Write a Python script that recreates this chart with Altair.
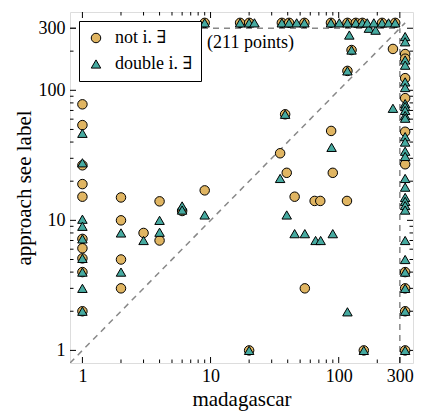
import altair as alt
import pandas as pd

W = 343
H = 351

# "not i. ∃" (circles)
not_x = [1, 1, 1, 1, 1, 1, 1, 1, 1, 1,
         2, 2, 2, 2,
         3, 4, 4, 6, 9,
         38.2, 87.3, 34.9, 39.3, 89.9, 45.3, 64.9, 71.8, 116, 54.4, 20, 157, 117, 126, 265,
         9, 17, 20, 36, 41, 54, 87, 117, 136, 153, 218, 276,
         330, 330, 330, 330, 330, 330, 330, 330, 330, 330]
not_y = [78, 54, 26.5, 19, 15.2, 7.2, 6.1, 5.1, 4.0, 2.0,
         15, 10, 5, 3,
         8, 14, 7, 11.8, 17,
         65.4, 48.7, 32.8, 23.2, 23.2, 15.2, 14.1, 14.1, 14.1, 3.0, 1, 1, 141, 204, 208,
         330, 330, 330, 330, 330, 330, 330, 330, 330, 330, 330, 330,
         190, 175, 124, 87, 48, 27, 4, 3, 2, 1]

# "double i. ∃" (triangles)
dbl_x = [1, 1, 1, 1, 1, 1, 1, 1, 1,
         2, 2, 3, 4, 4, 6, 6, 9,
         38.2, 88, 34.9, 39.3, 45.3, 54.4, 89.9, 66, 72.3, 117, 20, 157, 117, 126, 121, 172, 194, 265,
         9, 17, 20, 22, 36, 41, 47, 54, 87, 101, 117, 136, 153, 167, 188, 218, 245, 276,
         330, 330, 330, 330, 330, 330, 330, 330, 330, 330, 330, 330, 330, 330,
         330, 330, 330, 330, 330, 330, 330, 330, 330, 330, 330, 330, 330]
dbl_y = [46.7, 27.7, 10.2, 9.0, 7.2, 5.1, 4.0, 3.0, 2.0,
         8, 4, 7, 10, 8.1, 12.9, 12, 11,
         65.4, 36.4, 21, 11, 7.9, 7.9, 7.9, 7, 7, 1.98, 1, 1, 141, 204, 266, 300, 290, 72.7,
         330, 330, 330, 330, 330, 330, 330, 330, 330, 330, 330, 330, 330, 330, 330, 330, 330, 330,
         259, 236, 171, 156, 116, 105, 79, 75, 70, 64, 61, 44, 40, 34,
         31, 21, 18, 15, 14, 13, 12, 7, 5, 4, 3, 2, 1]

series_names = ["not i. ∃", "double i. ∃"]
series_colors = ["#E0B562", "#46AAA0"]
series_shapes = ["circle", "triangle-up"]

major_ticks = [1, 10, 100, 300]
minor_ticks = [2, 3, 4, 5, 6, 7, 8, 9, 20, 30, 40, 50, 60, 70, 80, 90, 200]

# reference lines: diagonal, y = 300, x = 300
line_id = ["diag", "diag", "h", "h", "v", "v"]
line_x = [0.8, 330, 0.8, 300, 300, 300]
line_y = [0.8, 330, 300, 300, 0.8, 300]

ann_x = [9.4]
ann_y = [231]
ann_text = ["(211 points)"]

FONT = "Liberation Serif, DejaVu Serif, serif"

points = pd.DataFrame({
    "x": not_x + dbl_x,
    "y": not_y + dbl_y,
    "series": [series_names[0]] * len(not_x) + [series_names[1]] * len(dbl_x),
})
lines = pd.DataFrame({"id": line_id, "x": line_x, "y": line_y})
ann = pd.DataFrame({"x": ann_x, "y": ann_y, "t": ann_text})
majors = pd.DataFrame({"v": major_ticks})
minors = pd.DataFrame({"v": minor_ticks})

xscale = alt.Scale(type="log", domain=[0.8, 380], nice=False)
yscale = alt.Scale(type="log", domain=[0.8, 400], nice=False)

xaxis = alt.Axis(values=major_ticks, format="d", ticks=False, domain=False, grid=False,
                 labelFont=FONT, labelFontSize=18, labelColor="black", labelPadding=4,
                 title="madagascar", titleFont=FONT, titleFontSize=21,
                 titleFontWeight="normal", titleColor="black", titlePadding=3)
yaxis = alt.Axis(values=major_ticks, format="d", ticks=False, domain=False, grid=False,
                 labelFont=FONT, labelFontSize=18, labelColor="black", labelPadding=5,
                 title="approach see label", titleFont=FONT, titleFontSize=21,
                 titleFontWeight="normal", titleColor="black", titlePadding=4)

legend = alt.Legend(title=None, orient="none", legendX=9, legendY=9,
                    strokeColor="black", fillColor="white", padding=8,
                    labelFont=FONT, labelFontSize=18, labelColor="black",
                    symbolSize=90, symbolStrokeColor="black", symbolStrokeWidth=1,
                    labelOffset=10, rowPadding=8, cornerRadius=0)

line_layer = alt.Chart(lines).mark_line(color="#888888", strokeWidth=1.5,
                                        strokeDash=[6, 5], clip=True).encode(
    x=alt.X("x:Q", scale=xscale, axis=xaxis),
    y=alt.Y("y:Q", scale=yscale, axis=yaxis),
    detail="id:N",
)

pts = alt.Chart(points).mark_point(filled=True, stroke="black", strokeWidth=1,
                                   size=90, opacity=1).encode(
    x=alt.X("x:Q", scale=xscale),
    y=alt.Y("y:Q", scale=yscale),
    color=alt.Color("series:N", scale=alt.Scale(domain=series_names, range=series_colors),
                    legend=legend),
    shape=alt.Shape("series:N", scale=alt.Scale(domain=series_names, range=series_shapes),
                    legend=legend),
)

text = alt.Chart(ann).mark_text(align="left", baseline="middle", font=FONT,
                                fontSize=18, color="black").encode(
    x=alt.X("x:Q", scale=xscale),
    y=alt.Y("y:Q", scale=yscale),
    text="t:N",
)


def ticks_x(df, ln, top):
    if top:
        enc = dict(y=alt.value(0), y2=alt.value(ln))
    else:
        enc = dict(y=alt.value(H), y2=alt.value(H - ln))
    return alt.Chart(df).mark_rule(color="black", strokeWidth=1).encode(
        x=alt.X("v:Q", scale=xscale), **enc)


def ticks_y(df, ln, right):
    if right:
        enc = dict(x=alt.value(W), x2=alt.value(W - ln))
    else:
        enc = dict(x=alt.value(0), x2=alt.value(ln))
    return alt.Chart(df).mark_rule(color="black", strokeWidth=1).encode(
        y=alt.Y("v:Q", scale=yscale), **enc)


tick_layers = []
for df, ln in [(majors, 6), (minors, 3.5)]:
    tick_layers += [ticks_x(df, ln, False), ticks_x(df, ln, True),
                    ticks_y(df, ln, False), ticks_y(df, ln, True)]

chart = alt.layer(line_layer, *tick_layers, pts, text).properties(
    width=W, height=H,
    autosize=alt.AutoSizeParams(type="none"),
    padding={"left": 62, "top": 4, "right": 1, "bottom": 50},
).configure_view(stroke="black", strokeWidth=1.5).configure(background="white")

chart.save("out.html", embed_options={"renderer": "svg", "actions": False})
